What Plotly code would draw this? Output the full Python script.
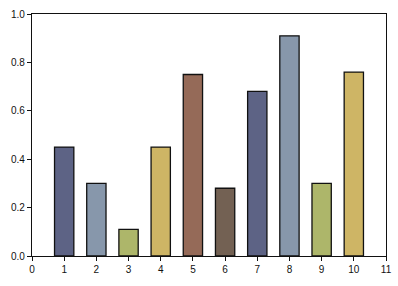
import plotly.graph_objects as go

categories = [1, 2, 3, 4, 5, 6, 7, 8, 9, 10]
values = [0.45, 0.30, 0.11, 0.45, 0.75, 0.28, 0.68, 0.91, 0.30, 0.76]
colors = ["#5d6385", "#8797ab", "#adb66a", "#ceb565", "#956a58",
          "#736153", "#5d6385", "#8797ab", "#adb66a", "#ceb565"]
x_ticks = list(range(0, 12))
y_ticks = [0.0, 0.2, 0.4, 0.6, 0.8, 1.0]

fig = go.Figure(go.Bar(
    x=categories, y=values, width=0.6,
    marker=dict(color=colors, line=dict(color="#111111", width=1.3)),
))
fig.update_layout(
    width=398, height=286,
    margin=dict(l=32, r=12, t=14, b=30, autoexpand=False),
    paper_bgcolor="white", plot_bgcolor="white",
    showlegend=False,
    font=dict(family="Liberation Sans", size=10, color="#111111"),
)
fig.update_xaxes(range=[0, 11], tickvals=x_ticks, ticktext=[str(t) for t in x_ticks],
                 showgrid=False, zeroline=False, showline=True, linecolor="#111111",
                 linewidth=1.3, mirror=True, ticks="outside", ticklen=4,
                 tickcolor="#111111", tickwidth=1, automargin=False)
fig.update_yaxes(range=[0, 1.0], tickvals=y_ticks, ticktext=[f"{t:.1f}" for t in y_ticks],
                 showgrid=False, zeroline=False, showline=True, linecolor="#111111",
                 linewidth=1.3, mirror=True, ticks="outside", ticklen=4,
                 tickcolor="#111111", tickwidth=1, automargin=False)
fig.write_html("out.html", config={"displayModeBar": False},
               post_script="document.body.style.margin='0';document.body.style.overflow='hidden';")
